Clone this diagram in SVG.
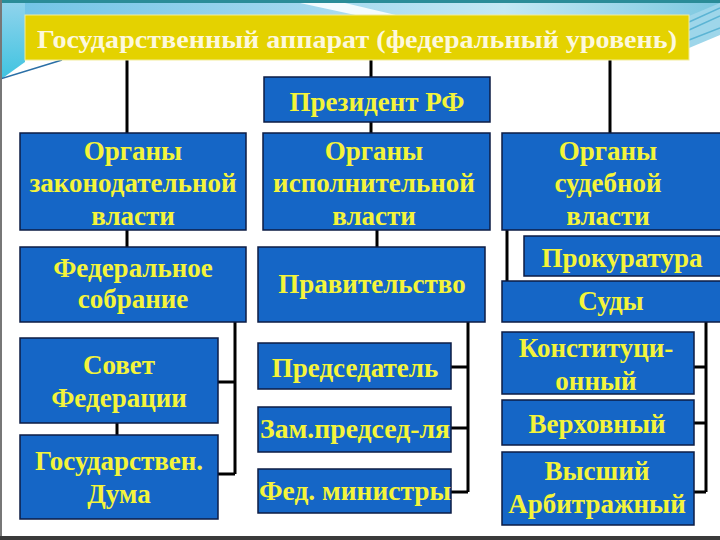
<svg xmlns="http://www.w3.org/2000/svg" width="720" height="540" viewBox="0 0 720 540">
<defs>
<linearGradient id="topband" x1="0" y1="0" x2="1" y2="0">
<stop offset="0" stop-color="#6fc3e6"/>
<stop offset="0.4" stop-color="#9fd6ee"/>
<stop offset="0.7" stop-color="#c4e8f4"/>
<stop offset="1" stop-color="#7cc8e0"/>
</linearGradient>
<linearGradient id="leftband" x1="0" y1="0" x2="0" y2="1">
<stop offset="0" stop-color="#8fd3ec"/>
<stop offset="1" stop-color="#3ec3e0"/>
</linearGradient>
<style>
.box{fill:#1566c6;stroke:#0c1c44;stroke-width:1.5}
.t{font-weight:bold;font-size:27px;fill:#f4f43a;text-anchor:middle}
.title{font-weight:bold;font-size:26px;fill:#fdf8dc;text-anchor:middle}
.c{stroke:#000;stroke-width:3;fill:none}
</style>
</defs>
<rect width="720" height="540" fill="#ffffff"/>
<rect x="0" y="0" width="720" height="16" fill="url(#topband)"/>
<rect x="0" y="0" width="720" height="3" fill="#2a8c98"/>
<path d="M300 3 L345 3 L400 16 L360 16 Z" fill="#f4fbfe"/>
<path d="M0 3 L25 3 L25 62 L0 80 Z" fill="url(#leftband)"/>
<path d="M0 79 L62 60" stroke="#2b6fa6" stroke-width="1.5"/>
<path d="M689 16 L720 3 L720 35 L689 48 Z" fill="#9ed6ea"/>
<path d="M689 22 L720 8 M689 30 L720 16 M689 40 L720 28" stroke="#5bb4d4" stroke-width="1.5"/>
<rect x="0" y="0" width="2" height="540" fill="#777"/>
<rect x="0" y="536" width="720" height="4" fill="#3a3a3a"/>

<g id="connectors">
<path class="c" d="M127 60 V133 M371 60 V77 M371 122 V133 M610 60 V133"/>
<path class="c" d="M127 230 V247 M377 230 V247 M507 230 V281"/>
<path class="c" d="M235 322 V474 M218 382 H235 M218 474 H235 M117 423 V435"/>
<path class="c" d="M468 322 V492 M451 367 H468 M451 428 H468 M451 492 H468"/>
<path class="c" d="M706 322 V492 M694 367 H706 M694 423 H706 M694 492 H706"/>
</g>

<g font-family="'Liberation Serif', 'DejaVu Serif', serif">
<g id="title">
<rect x="25" y="15" width="664" height="45" fill="#e4d200" stroke="#f2ec9a" stroke-width="1"/>
<text class="title" x="357" y="48" textLength="640" lengthAdjust="spacingAndGlyphs">Государственный аппарат (федеральный уровень)</text>
</g>
<g id="president">
<rect class="box" x="264" y="77" width="226" height="45"/>
<text class="t" x="377" y="111">Президент РФ</text>
</g>
<g id="legislative">
<rect class="box" x="20" y="133" width="226" height="97"/>
<text class="t" x="133" y="160">Органы</text>
<text class="t" x="133" y="192">законодательной</text>
<text class="t" x="133" y="225">власти</text>
</g>
<g id="executive">
<rect class="box" x="263" y="133" width="227" height="97"/>
<text class="t" x="374" y="160">Органы</text>
<text class="t" x="374" y="192">исполнительной</text>
<text class="t" x="374" y="225">власти</text>
</g>
<g id="judicial">
<rect class="box" x="502" y="133" width="220" height="97"/>
<text class="t" x="608" y="160">Органы</text>
<text class="t" x="608" y="192">судебной</text>
<text class="t" x="608" y="225">власти</text>
</g>
<g id="fedsobranie">
<rect class="box" x="20" y="247" width="226" height="75"/>
<text class="t" x="133" y="277">Федеральное</text>
<text class="t" x="133" y="308">собрание</text>
</g>
<g id="government">
<rect class="box" x="258" y="247" width="227" height="75"/>
<text class="t" x="372" y="293">Правительство</text>
</g>
<g id="prokuratura">
<rect class="box" x="524" y="236" width="198" height="40"/>
<text class="t" x="622" y="267">Прокуратура</text>
</g>
<g id="sudy">
<rect class="box" x="502" y="281" width="220" height="41"/>
<text class="t" x="611" y="310">Суды</text>
</g>
<g id="sovet">
<rect class="box" x="20" y="338" width="198" height="85"/>
<text class="t" x="119" y="374">Совет</text>
<text class="t" x="119" y="407">Федерации</text>
</g>
<g id="duma">
<rect class="box" x="20" y="435" width="198" height="84"/>
<text class="t" x="119" y="470">Государствен.</text>
<text class="t" x="119" y="503">Дума</text>
</g>
<g id="chairman">
<rect class="box" x="258" y="343" width="193" height="46"/>
<text class="t" x="355" y="377">Председатель</text>
</g>
<g id="deputy">
<rect class="box" x="258" y="407" width="193" height="45"/>
<text class="t" x="355" y="438" textLength="190" lengthAdjust="spacingAndGlyphs">Зам.председ-ля</text>
</g>
<g id="ministers">
<rect class="box" x="258" y="469" width="193" height="44"/>
<text class="t" x="355" y="500" textLength="192" lengthAdjust="spacingAndGlyphs">Фед. министры</text>
</g>
<g id="constitutional">
<rect class="box" x="502" y="332" width="192" height="62"/>
<text class="t" x="596" y="357">Конституци-</text>
<text class="t" x="596" y="390">онный</text>
</g>
<g id="supreme">
<rect class="box" x="502" y="400" width="192" height="45"/>
<text class="t" x="597" y="433">Верховный</text>
</g>
<g id="arbitrazh">
<rect class="box" x="502" y="452" width="192" height="73"/>
<text class="t" x="597" y="480">Высший</text>
<text class="t" x="597" y="513">Арбитражный</text>
</g>
</g>
</svg>
